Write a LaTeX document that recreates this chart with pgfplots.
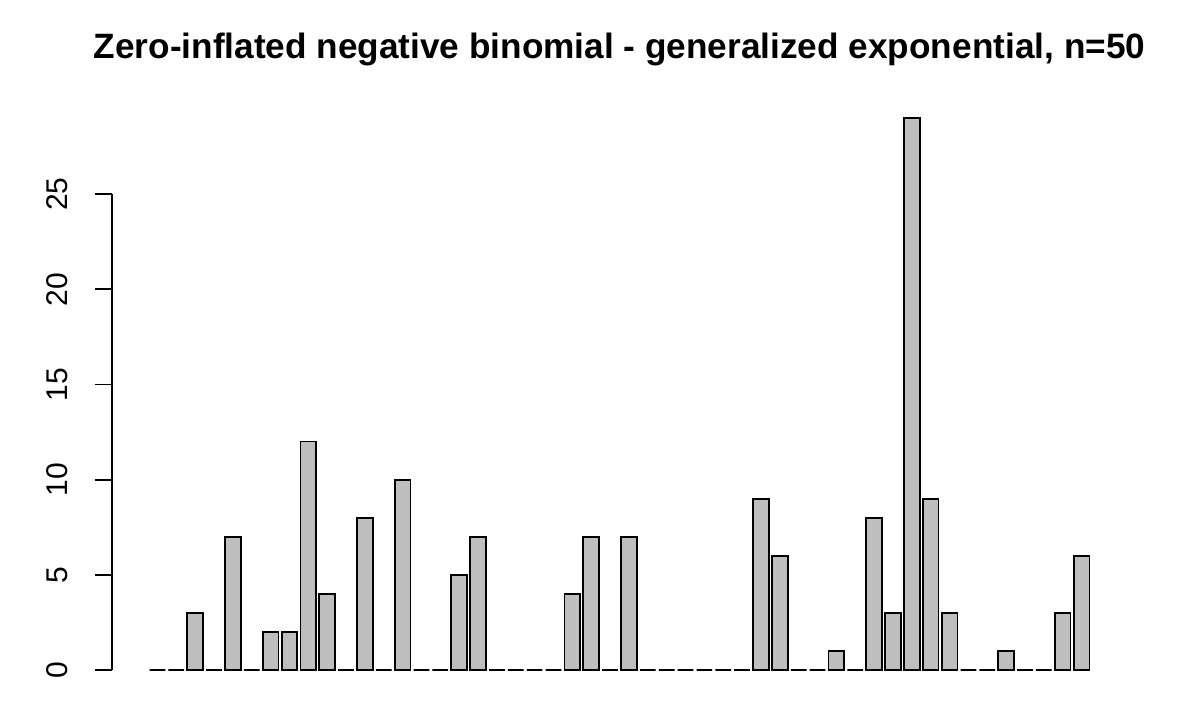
\documentclass[border=0pt]{standalone}
\usepackage{pgfplots}
\pgfplotsset{compat=1.18}
\usepackage{fontspec}
\setmainfont{Liberation Sans}
\definecolor{rgrey}{HTML}{BEBEBE}

\begin{document}
\begin{tikzpicture}
\begin{axis}[
  scale only axis,
  width=507.5pt, height=298pt,
  xmin=-1.41, xmax=52.41,
  ymin=-1.16, ymax=30.16,
  axis x line=none,
  axis y line*=left,
  y axis line style={draw=none},
  xtick=\empty,
  ytick={0,5,10,15,20,25},
  tick align=outside,
  major tick length=8.5pt,
  tick style={black, line width=0.9pt},
  yticklabel style={rotate=90, anchor=base, inner sep=0pt, yshift=13.5pt,
    font=\fontsize{15}{18}\selectfont},
  /pgf/number format/assume math mode=true,
  title={Zero-inflated negative binomial - generalized exponential, n=50},
  title style={at={(0.5,1)}, anchor=base, yshift=12.5pt,
    font=\bfseries\fontsize{17.6}{21}\selectfont},
  clip=false,
]
\addplot[ybar, bar width=0.8333, fill=rgrey, draw=black, line width=0.9pt]
  coordinates {
  (1,0) (2,0) (3,3) (4,0) (5,7) (6,0) (7,2) (8,2) (9,12) (10,4)
  (11,0) (12,8) (13,0) (14,10) (15,0) (16,0) (17,5) (18,7) (19,0) (20,0)
  (21,0) (22,0) (23,4) (24,7) (25,0) (26,7) (27,0) (28,0) (29,0) (30,0)
  (31,0) (32,0) (33,9) (34,6) (35,0) (36,0) (37,1) (38,0) (39,8) (40,3)
  (41,29) (42,9) (43,3) (44,0) (45,0) (46,1) (47,0) (48,0) (49,3) (50,6)
  };
\draw[black, line width=0.9pt] (axis cs:-1.41,0) -- (axis cs:-1.41,25);
\end{axis}
\path[use as bounding box] ([shift={(-56pt,-16.5pt)}]current axis.south west)
  rectangle ([shift={(36.5pt,48pt)}]current axis.north east);
\end{tikzpicture}
\end{document}
